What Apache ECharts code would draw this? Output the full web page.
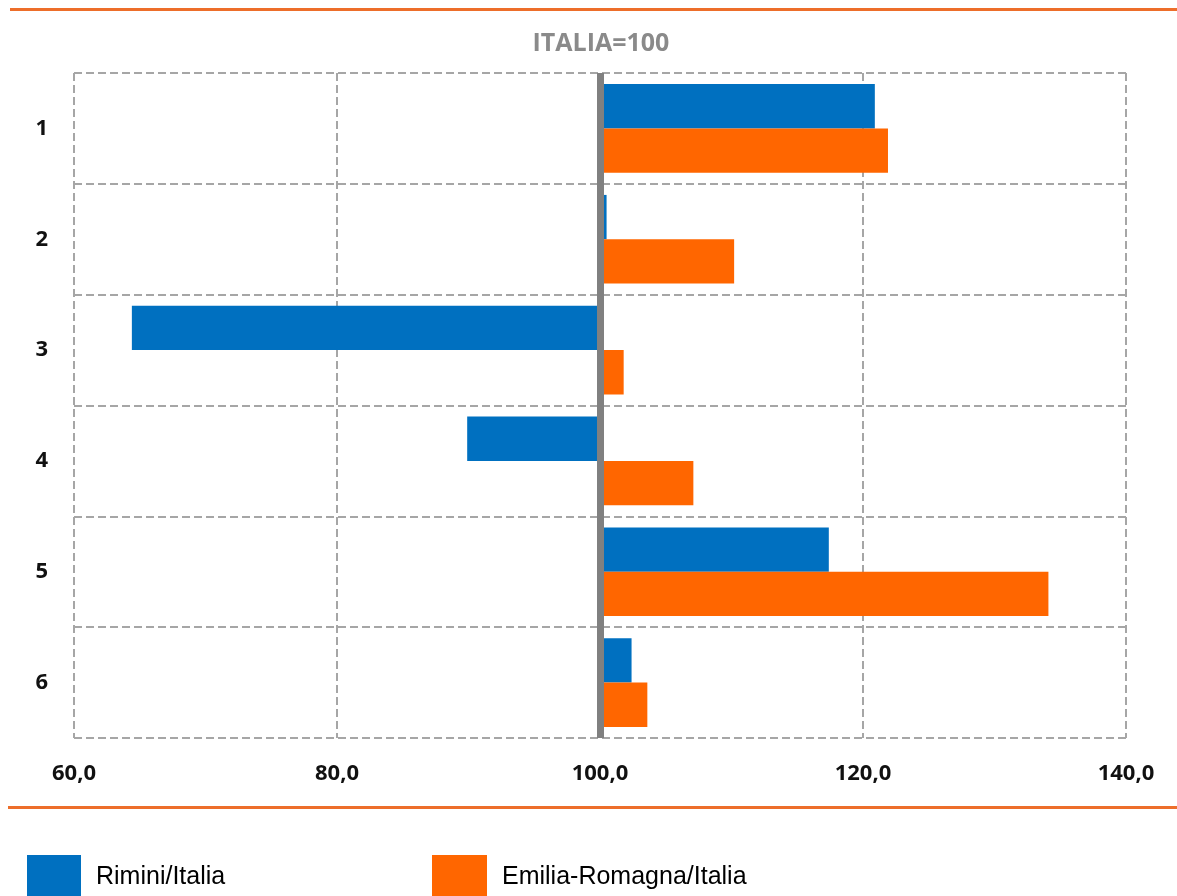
<!DOCTYPE html>
<html>
<head>
<meta charset="UTF-8">
<title>ITALIA=100</title>
<style>
html, body { margin: 0; padding: 0; background: #fff; }
#main { width: 1177px; height: 896px; }
</style>
<script src="https://cdn.jsdelivr.net/npm/echarts@6/dist/echarts.min.js"></script>
</head>
<body>
<div id="main"></div>
<script>
var categories = ['1', '2', '3', '4', '5', '6'];
var rimini = [120.9, 100.5, 64.4, 89.9, 117.4, 102.4];   // Rimini/Italia
var emilia = [121.9, 110.2, 101.8, 107.1, 134.1, 103.6]; // Emilia-Romagna/Italia
var base = 100;
var xTicks = [60, 80, 100, 120, 140];

// bars start from 100: invisible offset + visible part
function offsets(arr) { return arr.map(function (v) { return Math.min(v, base); }); }
function deltas(arr) { return arr.map(function (v) { return Math.abs(v - base); }); }

var chart = echarts.init(document.getElementById('main'));

var dash = { color: '#A6A6A6', width: 2, type: [8, 4] };
var labelFont = { fontFamily: 'Open Sans', fontWeight: 'bold', fontSize: 22, color: '#111' };
var legendText = { fontFamily: 'Liberation Sans', fontSize: 25, color: '#000', padding: [0, 0, 0, 10] };

var option = {
  animation: false,
  title: {
    text: 'ITALIA=100',
    left: 596, top: 26, textAlign: 'center',
    textStyle: { fontFamily: 'Open Sans', fontWeight: 'bold', fontSize: 25, color: '#8A8A8A' }
  },
  grid: { left: 74, right: 51, top: 73, bottom: 158 },
  xAxis: {
    type: 'value',
    min: xTicks[0], max: xTicks[xTicks.length - 1], interval: 20,
    axisLine: { show: false }, axisTick: { show: false },
    splitLine: { show: true, lineStyle: dash },
    axisLabel: Object.assign({ margin: 25, formatter: function (v) { return v.toFixed(1).replace('.', ','); } }, labelFont)
  },
  yAxis: {
    type: 'category', inverse: true, data: categories,
    axisLine: { show: false }, axisTick: { show: false },
    splitLine: { show: true, lineStyle: dash },
    axisLabel: Object.assign({ margin: 26, padding: [4, 0, 0, 0] }, labelFont)
  },
  legend: [{
    left: 27, top: 855, padding: 0, itemWidth: 54, itemHeight: 44, icon: 'rect',
    data: ['Rimini/Italia'], textStyle: legendText, selectedMode: false
  }, {
    left: 432, top: 855, padding: 0, itemWidth: 55, itemHeight: 44, icon: 'rect',
    data: ['Emilia-Romagna/Italia'], textStyle: legendText, selectedMode: false
  }],
  graphic: [
    { type: 'line', shape: { x1: 10, y1: 9.5, x2: 1177, y2: 9.5 }, style: { stroke: '#ED6E2A', lineWidth: 3 } },
    { type: 'line', shape: { x1: 8, y1: 807.5, x2: 1177, y2: 807.5 }, style: { stroke: '#ED6E2A', lineWidth: 3 } }
  ],
  series: [
    { name: 'r-base', type: 'bar', stack: 'r', data: offsets(rimini), itemStyle: { color: 'transparent' }, silent: true, barGap: '0%', barCategoryGap: '20%' },
    { name: 'Rimini/Italia', type: 'bar', stack: 'r', data: deltas(rimini), itemStyle: { color: '#0070C0' },
      markLine: { silent: true, symbol: 'none', label: { show: false }, lineStyle: { color: '#808080', width: 7, type: 'solid' }, data: [{ xAxis: base }], z: 10 } },
    { name: 'e-base', type: 'bar', stack: 'e', data: offsets(emilia), itemStyle: { color: 'transparent' }, silent: true },
    { name: 'Emilia-Romagna/Italia', type: 'bar', stack: 'e', data: deltas(emilia), itemStyle: { color: '#FF6600' } }
  ]
};

chart.setOption(option);
</script>
</body>
</html>
